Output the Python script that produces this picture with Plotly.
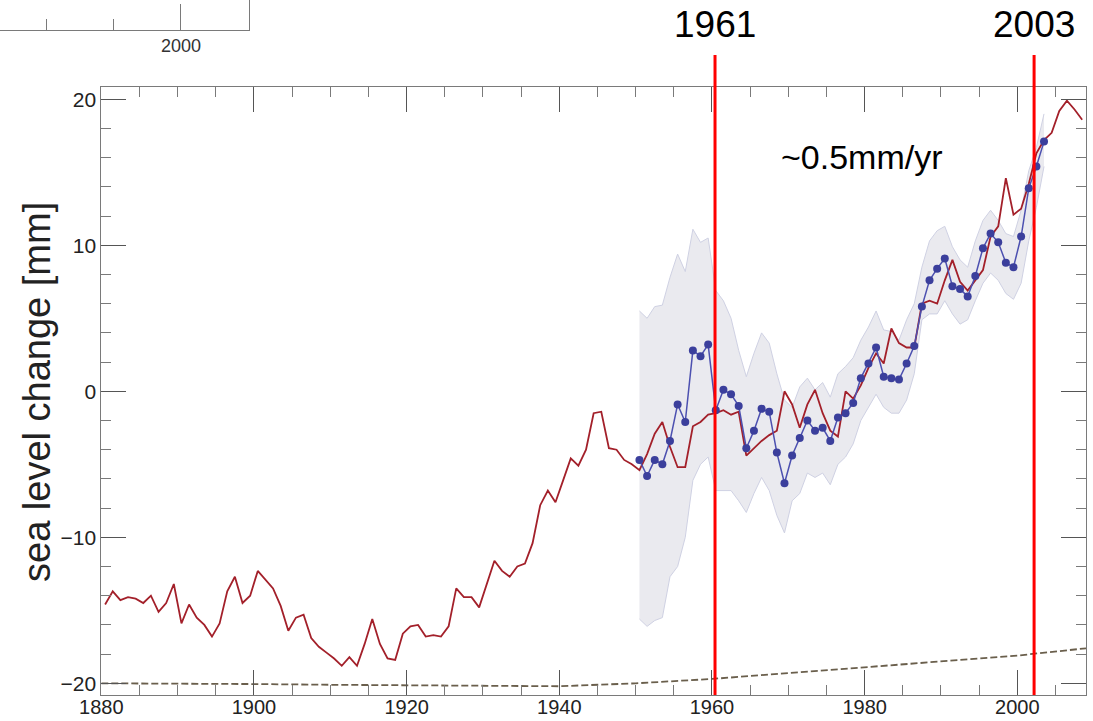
import plotly.graph_objects as go

# ---------------- data ----------------
tg_years = list(range(1880, 2009))
tide_gauge = [
    -14.6, -13.7, -14.3, -14.1, -14.2, -14.5, -14.0, -15.1, -14.5, -13.2,
    -15.9, -14.6, -15.5, -16.0, -16.8, -15.9, -13.7, -12.7, -14.5, -14.0,
    -12.3, -12.9, -13.5, -14.7, -16.4, -15.5, -15.3, -16.9, -17.5, -17.9,
    -18.3, -18.8, -18.2, -18.8, -17.3, -15.6, -17.3, -18.3, -18.4, -16.6,
    -16.1, -16.0, -16.8, -16.7, -16.8, -16.1, -13.5, -14.1, -14.1, -14.8,
    -13.2, -11.6, -12.3, -12.7, -12.0, -11.8, -10.4, -7.8, -6.8, -7.6,
    -6.1, -4.6, -5.1, -4.0, -1.5, -1.4, -3.9, -4.0, -4.7, -5.0,
    -5.4, -4.3, -2.9, -2.1, -3.8, -5.2, -5.2, -2.4, -2.1, -1.6,
    -1.5, -1.3, -1.6, -1.4, -4.4, -3.9, -3.4, -3.0, -2.7, 0.0,
    -0.9, -2.5, -0.9, 0.1, -1.5, -2.7, -3.1, 0.0, -0.5, 0.4,
    1.6, 2.6, 1.9, 4.3, 3.3, 3.0, 3.0, 6.0, 6.2, 6.0,
    7.6, 9.0, 7.5, 6.9, 7.6, 8.3, 10.6, 11.3, 14.6, 12.1,
    12.5, 14.2, 16.3, 17.2, 17.7, 19.2, 19.9, 19.3, 18.6,
]

rec_years = list(range(1950, 2004))
reconstruction = [
    -4.7, -5.8, -4.7, -5.0, -3.4, -0.9, -2.1, 2.8, 2.4, 3.2,
    -1.3, 0.1, -0.2, -1.0, -3.9, -2.7, -1.2, -1.4, -4.2, -6.3,
    -4.4, -3.2, -2.0, -2.7, -2.5, -3.4, -1.8, -1.5, -0.8, 0.9,
    1.9, 3.0, 1.0, 0.9, 0.8, 1.9, 3.1, 5.8, 7.6, 8.4,
    9.1, 7.2, 7.0, 6.5, 7.9, 9.8, 10.8, 10.2, 8.8, 8.5,
    10.6, 13.9, 15.4, 17.1,
]
band_upper = [
    5.5, 5.0, 5.8, 5.9, 7.8, 9.4, 8.2, 11.1, 10.2, 10.5,
    6.9, 6.2, 5.0, 2.8, 1.0, 2.6, 4.0, 3.3, 1.2, -0.6,
    -1.1, 0.3, 0.9, 0.1, 0.6, -0.4, 1.2, 1.7, 2.3, 3.5,
    4.4, 5.5, 4.2, 4.1, 3.5, 4.9, 6.0, 8.5, 10.3, 11.0,
    11.3, 9.9, 9.0, 8.5, 10.3, 11.7, 12.4, 11.7, 10.8, 10.6,
    12.4, 15.1, 16.7, 19.0,
]
band_lower = [
    -15.6, -16.1, -15.7, -15.5, -12.7, -12.0, -10.0, -6.1, -5.0, -4.5,
    -6.8, -6.8, -6.8, -7.5, -8.3, -7.0, -5.9, -6.8, -8.5, -9.7,
    -7.5, -7.0, -5.6, -5.9, -5.6, -6.4, -5.0, -4.5, -3.6, -2.0,
    -1.1, -0.2, -1.1, -1.5, -1.5, -0.6, 1.2, 4.9, 5.3, 5.3,
    6.2, 5.3, 4.6, 4.9, 6.2, 7.4, 8.1, 7.6, 6.7, 6.3,
    7.4, 10.3, 12.6, 15.4,
]

model_years = [1880, 1890, 1900, 1910, 1920, 1930, 1940, 1950, 1960, 1970, 1980, 1990, 2000, 2009]
model_curve = [-20.0, -20.0, -20.05, -20.1, -20.15, -20.2, -20.2, -20.0, -19.7, -19.3, -18.9, -18.5, -18.1, -17.6]

marker_years = [1960.4, 2002.2]
marker_labels = ["1961", "2003"]
rate_label = "~0.5mm/yr"

# annual means are plotted at mid-year
tg_x = [y + 0.5 for y in tg_years]
rec_x = [y + 0.5 for y in rec_years]

W, H = 1093, 721
FONT = "Liberation Sans, Arial, Helvetica, sans-serif"

fig = go.Figure()

fig.add_trace(go.Scatter(x=rec_x, y=band_lower, mode="lines",
                         line=dict(color="#cfd1e3", width=1), hoverinfo="skip"))
fig.add_trace(go.Scatter(x=rec_x, y=band_upper, mode="lines", fill="tonexty",
                         fillcolor="#eaeaef", line=dict(color="#cfd1e3", width=1),
                         hoverinfo="skip"))
fig.add_trace(go.Scatter(x=model_years, y=model_curve, mode="lines",
                         line=dict(color="#6a5f4c", width=1.8, dash="7px,3px")))
fig.add_trace(go.Scatter(x=tg_x, y=tide_gauge, mode="lines",
                         line=dict(color="#a3202a", width=1.8)))
fig.add_trace(go.Scatter(x=rec_x, y=reconstruction, mode="lines+markers",
                         line=dict(color="#4c50b0", width=1.5),
                         marker=dict(color="#3b3f9c", size=8)))
# empty trace for the inset fragment axes
fig.add_trace(go.Scatter(x=[], y=[], xaxis="x2", yaxis="y2"))

x0_px, x1_px = 101.3, 1086.0
y_top_px, y_bot_px = 87.3, 695.0

axis_col = "#7a7a7a"
fig.update_layout(
    width=W, height=H,
    margin=dict(l=0, r=0, t=0, b=0, autoexpand=False),
    paper_bgcolor="white", plot_bgcolor="white",
    showlegend=False,
    font=dict(family=FONT, color="#222"),
    xaxis=dict(
        domain=[x0_px / W, x1_px / W], range=[1880, 2009.0], automargin=False,
        showgrid=False, zeroline=False,
        showline=True, linecolor=axis_col, linewidth=1, mirror="ticks",
        ticks="inside", tick0=1880, dtick=20, ticklen=25, tickcolor="#555", tickwidth=1,
        minor=dict(ticks="inside", dtick=5, ticklen=10, tickcolor=axis_col, tickwidth=1),
        tickfont=dict(size=20, color="#222", family=FONT),
        ticklabelstandoff=-6,
    ),
    yaxis=dict(
        domain=[1 - y_bot_px / H, 1 - y_top_px / H], range=[-20.8, 20.82], automargin=False,
        showgrid=False, zeroline=False,
        showline=True, linecolor=axis_col, linewidth=1, mirror="ticks",
        ticks="inside", tick0=0, dtick=10, ticklen=25, tickcolor="#555", tickwidth=1,
        minor=dict(ticks="inside", dtick=2, ticklen=10, tickcolor=axis_col, tickwidth=1),
        tickfont=dict(size=21, color="#222", family=FONT),
    ),
    xaxis2=dict(
        domain=[0, 249 / W], range=[1986.59, 2005.04], anchor="y2", automargin=False,
        showgrid=False, zeroline=False,
        showline=True, linecolor=axis_col, linewidth=1,
        ticks="inside", tickvals=[2000], ticktext=["2000"], ticklen=26,
        tickcolor=axis_col,
        minor=dict(ticks="inside", tickvals=[1990, 1995], ticklen=11, tickcolor=axis_col),
        tickfont=dict(size=18, color="#333", family=FONT),
    ),
    yaxis2=dict(
        domain=[1 - 29.5 / H, 1], range=[0, 1], anchor="x2", side="right", automargin=False,
        showgrid=False, zeroline=False, showline=True, linecolor=axis_col,
        linewidth=1, showticklabels=False, ticks="",
    ),
)

# red marker lines and their labels
for yr, lab in zip(marker_years, marker_labels):
    fig.add_shape(type="line", xref="x", yref="paper", x0=yr, x1=yr,
                  y0=1 - y_bot_px / H, y1=1 - 55 / H,
                  line=dict(color="#ff0000", width=3))
    fig.add_annotation(x=yr, xref="x", y=1 - 25 / H, yref="paper",
                       text=lab, showarrow=False, xanchor="center", yanchor="middle",
                       font=dict(size=37, color="black", family=FONT))

fig.add_annotation(x=862 / W, xref="paper", y=1 - 157 / H, yref="paper",
                   text=rate_label, showarrow=False, xanchor="center", yanchor="middle",
                   font=dict(size=34, color="black", family=FONT))

fig.add_annotation(x=37 / W, xref="paper", y=1 - 392 / H, yref="paper",
                   text="sea level change [mm]", textangle=-90, showarrow=False,
                   xanchor="center", yanchor="middle",
                   font=dict(size=38, color="#222", family=FONT))

fig.write_html("out.html")
